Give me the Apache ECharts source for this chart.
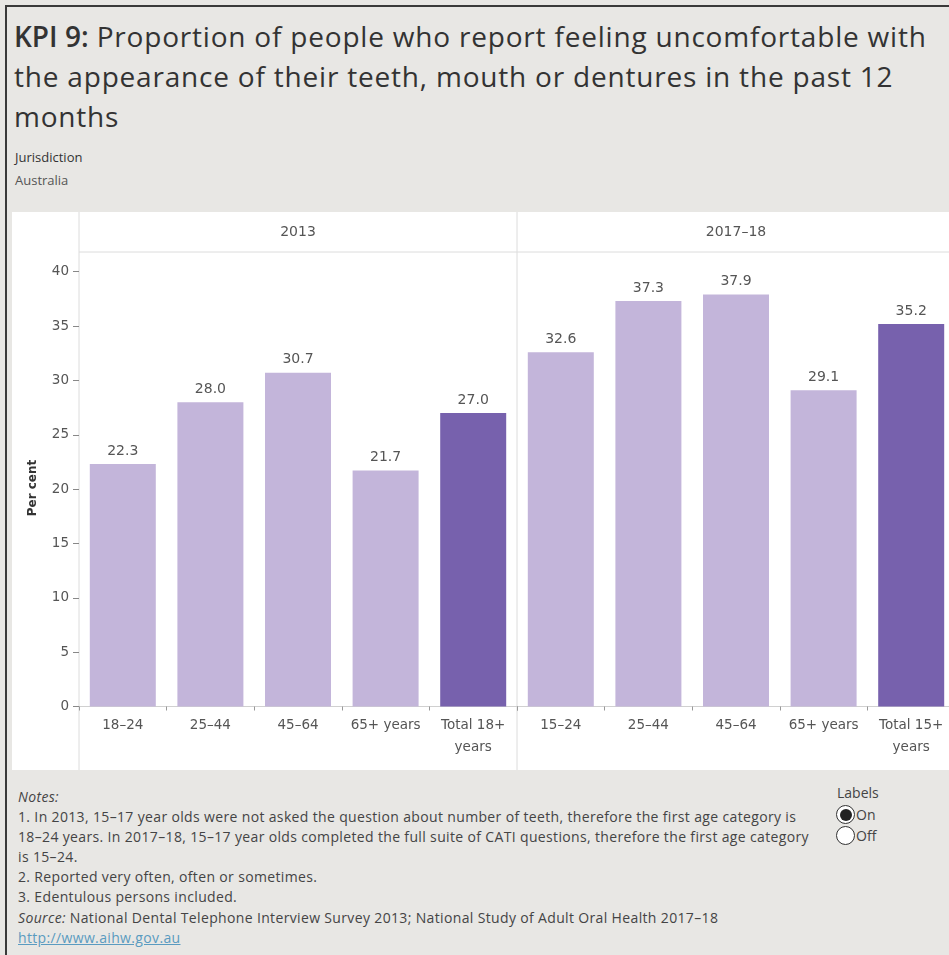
<!DOCTYPE html>
<html>
<head>
<meta charset="utf-8">
<script src="https://cdn.jsdelivr.net/npm/echarts@6/dist/echarts.min.js"></script>
<style>
  html, body { margin: 0; padding: 0; width: 949px; height: 955px; overflow: hidden; background: #e8e7e4; }
  body { position: relative; font-family: "Open Sans", sans-serif; color: #333; }
  #frame { position: absolute; left: 5px; top: 5px; width: 960px; height: 960px; border-left: 2px solid #3a3a3a; border-top: 2px solid #3a3a3a; }
  #title { position: absolute; left: 14px; top: 16px; font-size: 28px; line-height: 40px; color: #333; white-space: nowrap; letter-spacing: 0.8px; }
  #title b { font-weight: 600; letter-spacing: 0; }
  #filter { position: absolute; left: 15px; top: 146px; font-size: 13px; line-height: 23px; white-space: nowrap; }
  #filter .v { color: #555; }
  #chart { position: absolute; left: 12px; top: 212px; width: 944px; height: 558px; background: #fff; }
  #notes { position: absolute; left: 18px; top: 787px; font-size: 14px; line-height: 20.1px; color: #444; white-space: nowrap; letter-spacing: 0.35px; }
  #notes i { font-style: italic; }
  #notes a { color: #5a9bc0; text-decoration: underline; }
  #toggle { position: absolute; left: 837px; top: 783px; font-size: 14px; color: #444; }
  #toggle .hd { line-height: 20px; margin-bottom: 1px; }
  #toggle .opt { position: relative; height: 21px; line-height: 21px; padding-left: 19px; }
  #toggle .opt span.c { position: absolute; left: -1px; top: 1px; width: 19px; height: 19px; border: 1px solid #333; border-radius: 50%; background: #fff; box-sizing: border-box; }
  #toggle .opt span.c.on::after { content: ""; position: absolute; left: 2.5px; top: 2.5px; width: 12px; height: 12px; border-radius: 50%; background: #222; }
</style>
</head>
<body>
<div id="frame"></div>
<div id="title"><b>KPI 9:</b> Proportion of people who report feeling uncomfortable with<br>the appearance of their teeth, mouth or dentures in the past 12<br>months</div>
<div id="filter">Jurisdiction<br><span class="v">Australia</span></div>
<div id="chart"></div>
<div id="notes">
  <i>Notes:</i><br>
  1. In 2013, 15–17 year olds were not asked the question about number of teeth, therefore the first age category is<br>
  18–24 years. In 2017–18, 15–17 year olds completed the full suite of CATI questions, therefore the first age category<br>
  is 15–24.<br>
  2. Reported very often, often or sometimes.<br>
  3. Edentulous persons included.<br>
  <i>Source:</i> National Dental Telephone Interview Survey 2013; National Study of Adult Oral Health 2017–18<br>
  <a>http://www.aihw.gov.au</a>
</div>
<div id="toggle">
  <div class="hd">Labels</div>
  <div class="opt"><span class="c on"></span>On</div>
  <div class="opt"><span class="c"></span>Off</div>
</div>
<script>
// Survey panels and their age groups
const panelTitles = ['2013', '2017–18'];
const categories2013 = ['18–24', '25–44', '45–64', '65+ years', 'Total 18+\nyears'];
const categories2017 = ['15–24', '25–44', '45–64', '65+ years', 'Total 15+\nyears'];
// Per cent uncomfortable with appearance of teeth, mouth or dentures
const values2013 = [22.3, 28.0, 30.7, 21.7, 27.0];
const values2017 = [32.6, 37.3, 37.9, 29.1, 35.2];
// Y axis scale
const yMin = 0, yMax = 40, yStep = 5;

const LIGHT = '#c3b5da', DARK = '#7761ad';
const FONT = '"DejaVu Sans", sans-serif';

const chart = echarts.init(document.getElementById('chart'), null, { renderer: 'canvas' });

const axisLeft = 67, panelW = 438, headerH = 40, gridTop = 59.7, gridH = 434.8;

function barData(vals) {
  return vals.map((v, i) => ({
    value: v,
    itemStyle: { color: i === vals.length - 1 ? DARK : LIGHT }
  }));
}

function xAxisFor(idx, cats) {
  return {
    type: 'category', gridIndex: idx, data: cats,
    axisLine: { lineStyle: { color: '#d0d0d0', width: 1 } },
    axisTick: { show: true, length: 4, lineStyle: { color: '#999' } },
    axisLabel: { color: '#555', fontSize: 13.5, fontFamily: FONT, margin: 8, lineHeight: 22, interval: 0 }
  };
}

function yAxisFor(idx, showLabels) {
  return {
    type: 'value', gridIndex: idx, min: yMin, max: yMax, interval: yStep,
    axisLine: { show: false },
    axisTick: { show: showLabels, length: 6, lineStyle: { color: '#888' } },
    axisLabel: { show: showLabels, color: '#555', fontSize: 13.5, fontFamily: FONT, margin: 10 },
    splitLine: { show: false }
  };
}

const labelCfg = {
  show: true, position: 'top', distance: 6,
  color: '#555', fontSize: 14, fontFamily: FONT,
  formatter: p => p.value.toFixed(1)
};

const lineColor = '#dcdcdc';

chart.setOption({
  animation: false,
  textStyle: { fontFamily: FONT },
  grid: [
    { left: axisLeft, top: gridTop, width: panelW, height: gridH },
    { left: axisLeft + panelW, top: gridTop, width: panelW, height: gridH }
  ],
  xAxis: [xAxisFor(0, categories2013), xAxisFor(1, categories2017)],
  yAxis: [yAxisFor(0, true), yAxisFor(1, false)],
  series: [
    { type: 'bar', xAxisIndex: 0, yAxisIndex: 0, data: barData(values2013), barWidth: 66, label: labelCfg },
    { type: 'bar', xAxisIndex: 1, yAxisIndex: 1, data: barData(values2017), barWidth: 66, label: labelCfg }
  ],
  graphic: [
    // panel header separator
    { type: 'line', shape: { x1: axisLeft, y1: headerH, x2: 944, y2: headerH }, style: { stroke: lineColor, lineWidth: 1 }, silent: true },
    // left axis rule and panel divider
    { type: 'line', shape: { x1: axisLeft, y1: 0, x2: axisLeft, y2: 558 }, style: { stroke: lineColor, lineWidth: 1 }, silent: true },
    { type: 'line', shape: { x1: axisLeft + panelW, y1: 0, x2: axisLeft + panelW, y2: 558 }, style: { stroke: lineColor, lineWidth: 1 }, silent: true },
    // panel headers
    { type: 'text', x: axisLeft + panelW / 2, y: 20, style: { text: panelTitles[0], fill: '#555', font: '14px ' + FONT, textAlign: 'center', textVerticalAlign: 'middle' } },
    { type: 'text', x: axisLeft + panelW * 1.5, y: 20, style: { text: panelTitles[1], fill: '#555', font: '14px ' + FONT, textAlign: 'center', textVerticalAlign: 'middle' } },
    // y axis title
    { type: 'text', x: 21, y: 276, rotation: Math.PI / 2, style: { text: 'Per cent', fill: '#333', font: 'bold 12px ' + FONT, textAlign: 'center', textVerticalAlign: 'middle' } }
  ]
});
</script>
</body>
</html>
